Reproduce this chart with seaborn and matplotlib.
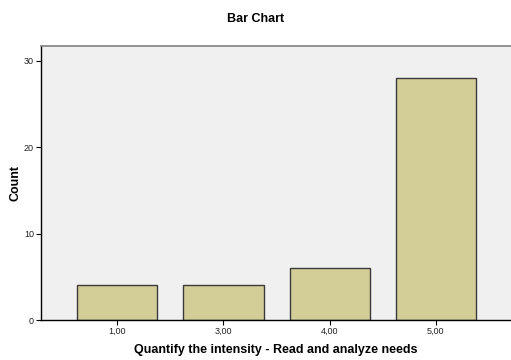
import matplotlib
matplotlib.use("Agg")
import matplotlib.pyplot as plt
import seaborn as sns
import pandas as pd

# values
categories = ["1,00", "3,00", "4,00", "5,00"]
counts = [4, 4, 6, 28]
y_ticks = [0, 10, 20, 30]

df = pd.DataFrame({"cat": categories, "count": counts})

sns.set_theme(style="white")
plt.rcParams["font.family"] = ["Liberation Sans", "DejaVu Sans"]
plt.rcParams["text.color"] = "black"
plt.rcParams["axes.labelcolor"] = "black"

fig = plt.figure(figsize=(5.11, 3.60), dpi=100)
ax = fig.add_axes([41 / 511, 40 / 360, 1 - 41 / 511, 274 / 360])
ax.set_facecolor("#f0f0f0")

sns.barplot(data=df, x="cat", y="count", color="#d3ce97", saturation=1,
            width=0.755, edgecolor="#3a3a3a", linewidth=1.0, ax=ax)

ax.set_xlim(-0.72, 3.71)
ax.set_ylim(0, 31.7)
ax.set_yticks(y_ticks)
ax.tick_params(axis="both", which="both", direction="out", length=3.5,
               width=0.8, color="black", labelcolor="#222222", labelsize=6.5,
               pad=1.5, bottom=True, left=True)

for side in ["left", "bottom"]:
    ax.spines[side].set_color("black")
    ax.spines[side].set_linewidth(1.0)
ax.spines["top"].set_color("#808080")
ax.spines["top"].set_linewidth(1.2)
ax.spines["right"].set_visible(False)

ax.set_xlabel("Quantify the intensity - Read and analyze needs",
              fontsize=9, fontweight="bold", labelpad=6)
ax.set_ylabel("Count", fontsize=9, fontweight="bold", labelpad=2)
fig.suptitle("Bar Chart", fontsize=9, fontweight="bold", x=0.5, y=0.965)

fig.savefig("out.png", dpi=100)
